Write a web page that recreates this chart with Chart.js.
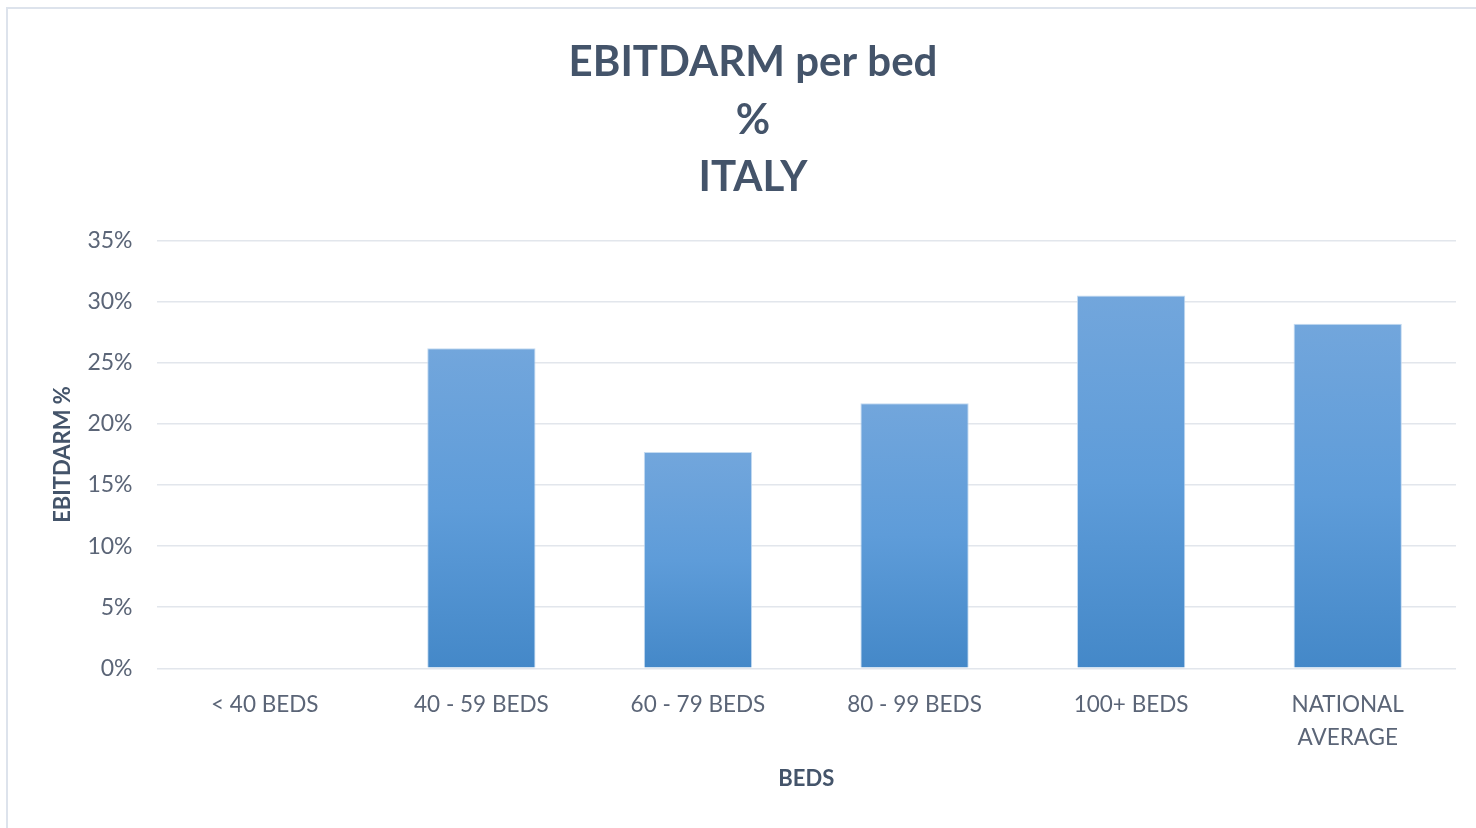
<!DOCTYPE html>
<html>
<head>
<meta charset="utf-8">
<script src="https://cdn.jsdelivr.net/npm/chart.js@4.4.1/dist/chart.umd.min.js"></script>
<style>
  html, body { margin: 0; padding: 0; background: #ffffff; }
  #frame { position: absolute; left: 6px; top: 7px; width: 1470px; height: 821px;
           border-left: 2px solid #dde3ec; border-top: 2px solid #dde3ec; box-sizing: border-box; }
  #wrap { position: absolute; left: 0; top: 0; width: 1476px; height: 828px; }
</style>
</head>
<body>
<div id="frame"></div>
<div id="wrap"><canvas id="c" width="1476" height="828"></canvas></div>
<script>
const categories = ["< 40 BEDS", "40 - 59 BEDS", "60 - 79 BEDS", "80 - 99 BEDS", "100+ BEDS", ["NATIONAL", "AVERAGE"]];
const ebitdarmPct = [null, 26.2, 17.7, 21.7, 30.5, 28.2];
const titleLines = ["EBITDARM per bed", "%", "ITALY"];
const yTicks = [0, 5, 10, 15, 20, 25, 30, 35];

const textDark = "#44546a";
const tickColor = "#5b6577";
const fontFamily = "Lato, 'Open Sans', sans-serif";

function barGradient(ctx) {
  const chart = ctx.chart;
  const ys = chart.scales && chart.scales.y;
  const v = ctx.raw;
  if (!ys || v == null || !chart.chartArea) return "#5b9bd5";
  const top = ys.getPixelForValue(v);
  const bottom = ys.getPixelForValue(0);
  const g = chart.ctx.createLinearGradient(0, top, 0, bottom);
  g.addColorStop(0, "#72a6dc");
  g.addColorStop(0.5, "#5e9cd9");
  g.addColorStop(1, "#4488c8");
  return g;
}

new Chart(document.getElementById("c"), {
  type: "bar",
  data: {
    labels: categories,
    datasets: [{
      data: ebitdarmPct,
      backgroundColor: barGradient,
      borderColor: "rgba(190,215,240,0.9)",
      borderWidth: 1,
      categoryPercentage: 1.0,
      barPercentage: 0.5
    }]
  },
  options: {
    responsive: false,
    animation: false,
    devicePixelRatio: 1,
    layout: { padding: { left: 50, right: 20, top: 34, bottom: 36 } },
    plugins: {
      legend: { display: false },
      tooltip: { enabled: false },
      title: {
        display: true,
        text: titleLines,
        color: textDark,
        font: { family: fontFamily, size: 42, weight: "bold", lineHeight: 1.37 },
        padding: { top: 0, bottom: 34 }
      }
    },
    scales: {
      x: {
        grid: { display: false, drawTicks: false },
        border: { display: false },
        ticks: {
          color: tickColor,
          font: { family: fontFamily, size: 22.5, lineHeight: 1.45 },
          padding: 20,
          maxRotation: 0,
          autoSkip: false
        },
        title: {
          display: true,
          text: "BEDS",
          color: textDark,
          font: { family: fontFamily, size: 22, weight: "bold" },
          padding: { top: -8, bottom: 0 }
        }
      },
      y: {
        min: 0,
        max: 35,
        afterBuildTicks: (axis) => { axis.ticks = yTicks.map(v => ({ value: v })); },
        grid: { color: "#e2e6ec", lineWidth: 1.5, drawTicks: false },
        border: { display: false },
        ticks: {
          color: tickColor,
          font: { family: fontFamily, size: 23 },
          padding: 24,
          callback: (v) => v + "%"
        },
        title: {
          display: true,
          text: "EBITDARM %",
          color: textDark,
          font: { family: fontFamily, size: 22, weight: "bold" },
          padding: { top: 0, bottom: -13 }
        }
      }
    }
  }
});
</script>
</body>
</html>
